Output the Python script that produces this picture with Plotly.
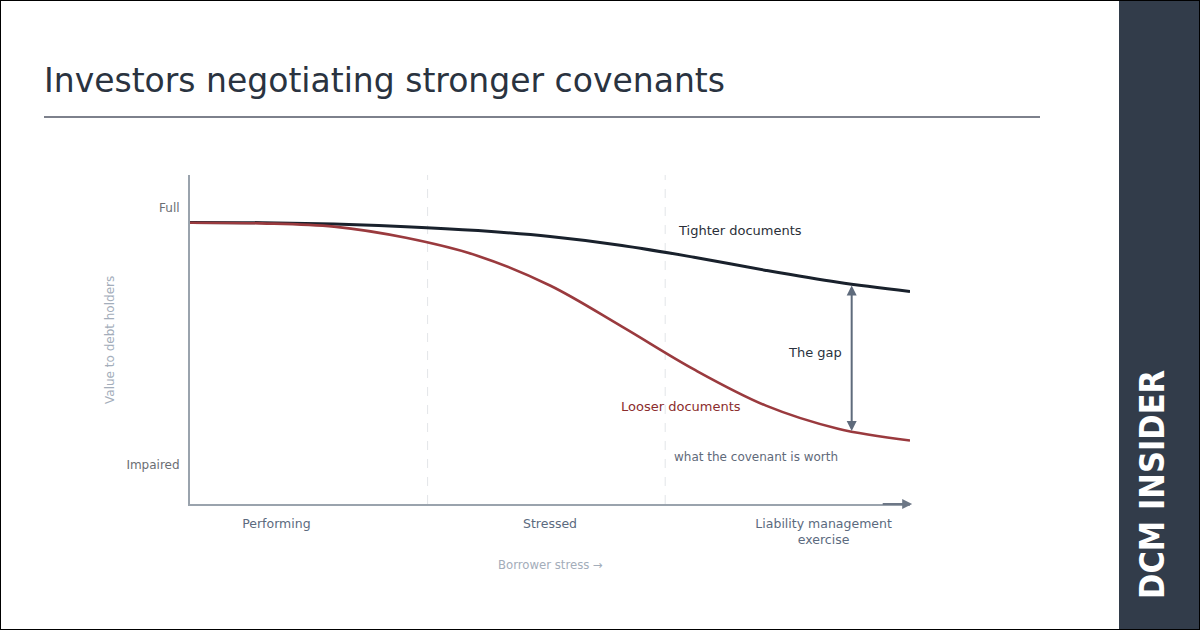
import numpy as np
import plotly.graph_objects as go

# ---------------- data ----------------
stress = [0, 10, 20, 30, 40, 50, 60, 70, 80, 90, 100]
tighter = [85.6, 85.5, 85.1, 84.3, 83.1, 81.3, 78.6, 75.0, 71.0, 67.4, 64.6]
looser = [85.5, 85.3, 84.3, 80.9, 75.4, 66.4, 53.9, 40.9, 29.9, 22.9, 19.3]

stage_pos = [12, 50, 88]
stage_labels = ["Performing", "Stressed", "Liability management<br>exercise"]
stage_dividers = [33, 66]

value_ticks = [12, 90]
value_labels = ["Impaired", "Full"]

gap_x = 91.9

W, H = 1200, 630
FONT = "DejaVu Sans"


def PX(x):
    return x / W


def PY(y):
    return 1 - y / H


fig = go.Figure()

fig.add_trace(go.Scatter(
    x=stress, y=tighter, mode="lines", line=dict(color="#19212c", width=3, shape="spline"),
    hoverinfo="skip", showlegend=False))
fig.add_trace(go.Scatter(
    x=stress, y=looser, mode="lines", line=dict(color="#9a3a3e", width=2.6, shape="spline"),
    hoverinfo="skip", showlegend=False))

shapes = []
# right brand panel
shapes.append(dict(type="rect", xref="paper", yref="paper", x0=PX(1119), x1=1, y0=0, y1=1,
                   fillcolor="#323c4a", line=dict(width=0), layer="below"))
# title rule
shapes.append(dict(type="line", xref="paper", yref="paper", x0=PX(44), x1=PX(1040),
                   y0=PY(117), y1=PY(117), line=dict(color="#7d818c", width=2)))
# stage dividers
for d in stage_dividers:
    shapes.append(dict(type="line", xref="x", yref="y domain", x0=d, x1=d, y0=0, y1=1,
                       line=dict(color="#e3e5e8", width=1, dash="dash"), layer="below"))
# outer border
shapes.append(dict(type="rect", xref="paper", yref="paper", x0=0, x1=1, y0=0, y1=1,
                   line=dict(color="#000000", width=2), fillcolor="rgba(0,0,0,0)"))

gap_top = float(np.interp(gap_x, stress, tighter))
gap_bot = float(np.interp(gap_x, stress, looser))

annotations = [
    dict(text="Investors negotiating stronger covenants", xref="paper", yref="paper",
         x=PX(42), y=PY(80), xanchor="left", yanchor="middle", showarrow=False,
         font=dict(family=FONT, size=33, color="#2a3340")),
    dict(text="DCM INSIDER", xref="paper", yref="paper", x=PX(1152), y=PY(485),
         xanchor="center", yanchor="middle", textangle=-90, showarrow=False,
         font=dict(family="DejaVu Sans Condensed, DejaVu Sans", size=34,
                   color="#ffffff", weight=700)),
    dict(text="Value to debt holders", xref="paper", yref="paper", x=PX(110), y=PY(340),
         xanchor="center", yanchor="middle", textangle=-90, showarrow=False,
         font=dict(family=FONT, size=12, color="#a3adba")),
    dict(text="Borrower stress →", xref="paper", yref="paper", x=PX(550), y=PY(565),
         xanchor="center", yanchor="middle", showarrow=False,
         font=dict(family=FONT, size=11.7, color="#a3adba")),
    dict(text="Tighter documents", xref="paper", yref="paper", x=PX(740), y=PY(230),
         xanchor="center", yanchor="middle", showarrow=False,
         font=dict(family=FONT, size=13, color="#2a2f38")),
    dict(text="Looser documents", xref="paper", yref="paper", x=PX(681), y=PY(406),
         xanchor="center", yanchor="middle", showarrow=False,
         font=dict(family=FONT, size=13, color="#8b2d2d")),
    dict(text="The gap", xref="paper", yref="paper", x=PX(815), y=PY(352),
         xanchor="center", yanchor="middle", showarrow=False,
         font=dict(family=FONT, size=13, color="#2a3340")),
    dict(text="what the covenant is worth", xref="paper", yref="paper", x=PX(756), y=PY(457),
         xanchor="center", yanchor="middle", showarrow=False,
         font=dict(family=FONT, size=12, color="#5f6a7a")),
    # gap double arrow
    dict(x=gap_x, y=gap_bot, ax=gap_x, ay=gap_top, xref="x", yref="y", axref="x", ayref="y",
         text="", showarrow=True, arrowhead=2, startarrowhead=2, arrowside="end+start",
         arrowsize=1, startarrowsize=1, arrowwidth=2, arrowcolor="#5f6b7c", standoff=0, startstandoff=0),
    # x axis arrow
    dict(x=100.3, y=0, ax=96, ay=0, xref="x", yref="y", axref="x", ayref="y",
         text="", showarrow=True, arrowhead=2, arrowsize=1, arrowwidth=2,
         arrowcolor="#6d7786", standoff=0),
]

fig.update_layout(
    width=W, height=H,
    margin=dict(l=0, r=0, t=0, b=0),
    paper_bgcolor="#ffffff", plot_bgcolor="#ffffff",
    font=dict(family=FONT),
    shapes=shapes,
    annotations=annotations,
    showlegend=False,
    hovermode=False,
    xaxis=dict(domain=[PX(190), PX(910)], range=[0, 100], showgrid=False, zeroline=False,
               showline=True, linecolor="#9aa3ad", linewidth=2,
               tickmode="array", tickvals=stage_pos, ticktext=stage_labels,
               ticks="outside", ticklen=7, tickcolor="rgba(0,0,0,0)",
               tickfont=dict(family=FONT, size=12.5, color="#5b6a7e"), fixedrange=True),
    yaxis=dict(domain=[PY(504), PY(175)], range=[0, 100], showgrid=False, zeroline=False,
               showline=True, linecolor="#9aa3ad", linewidth=2,
               tickmode="array", tickvals=value_ticks, ticktext=value_labels,
               ticks="outside", ticklen=6, tickcolor="rgba(0,0,0,0)",
               tickfont=dict(family=FONT, size=12, color="#6b6e73"), fixedrange=True),
)

fig.write_html("out.html", config={"displayModeBar": False},
               post_script="document.body.style.margin='0';")
